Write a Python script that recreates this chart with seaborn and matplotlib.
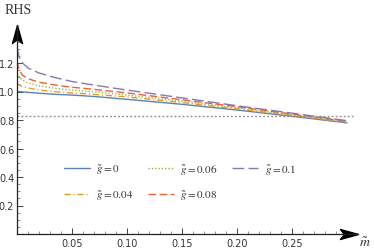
import numpy as np
import pandas as pd
import matplotlib
matplotlib.use('Agg')
import matplotlib.pyplot as plt
import seaborn as sns

# values
m_vals = [0.0, 0.002, 0.005, 0.01, 0.02, 0.035, 0.05, 0.07, 0.10, 0.15, 0.20, 0.25, 0.30]
rhs_g000 = [1.00, 0.999, 0.997, 0.994, 0.988, 0.980, 0.975, 0.965, 0.945, 0.910, 0.870, 0.826, 0.780]
rhs_g004 = [1.06, 1.045, 1.035, 1.025, 1.010, 0.998, 0.990, 0.980, 0.962, 0.922, 0.878, 0.832, 0.783]
rhs_g006 = [1.13, 1.10, 1.08, 1.06, 1.04, 1.022, 1.010, 0.998, 0.975, 0.932, 0.886, 0.837, 0.787]
rhs_g008 = [1.21, 1.15, 1.115, 1.09, 1.065, 1.045, 1.030, 1.015, 0.990, 0.942, 0.893, 0.842, 0.790]
rhs_g010 = [1.31, 1.24, 1.20, 1.165, 1.13, 1.097, 1.070, 1.045, 1.010, 0.955, 0.900, 0.848, 0.795]
ref_level = 0.83
ref_span = [0.0, 0.305]

labels = [r'$\tilde{g} = 0$', r'$\tilde{g} = 0.04$', r'$\tilde{g} = 0.06$',
          r'$\tilde{g} = 0.08$', r'$\tilde{g} = 0.1$']
series = [rhs_g000, rhs_g004, rhs_g006, rhs_g008, rhs_g010]
colors = ['#5E81B5', '#E19C24', '#8FB032', '#EB6235', '#8778B3']
styles = ['-', (0, (4.5, 2.0, 0.8, 2.0)), (0, (0.9, 1.5)), (0, (5.5, 2.5)), (0, (8.5, 3.0))]

sns.set_style('white')
plt.rcParams['font.family'] = ['DejaVu Sans']
plt.rcParams['mathtext.fontset'] = 'stix'

fig = plt.figure(figsize=(3.74, 2.51), dpi=100)
ax = fig.add_axes([17 / 374, 16 / 251, 0.31 * 1100 / 374, 1.47 * 142.5 / 251])

for lab, ys, c, ls in zip(labels, series, colors, styles):
    sns.lineplot(x=m_vals, y=ys, ax=ax, color=c, lw=1.0, linestyle=ls, label=lab)

sns.lineplot(x=ref_span, y=[ref_level, ref_level], ax=ax, color='#8c8c8c',
             lw=1.0, linestyle=(0, (1.3, 1.6)), legend=False)

ax.set_xlim(0, 0.31)
ax.set_ylim(0, 1.47)

for s in ['top', 'right']:
    ax.spines[s].set_visible(False)
for s in ['left', 'bottom']:
    ax.spines[s].set_color('#222222')
    ax.spines[s].set_linewidth(0.9)

ax.set_xticks([0.05, 0.10, 0.15, 0.20, 0.25])
ax.set_xticklabels(['0.05', '0.10', '0.15', '0.20', '0.25'])
ax.set_xticks(np.arange(0.01, 0.30, 0.01), minor=True)
ax.set_yticks([0.2, 0.4, 0.6, 0.8, 1.0, 1.2])
ax.set_yticklabels(['0.2', '0.4', '0.6', '0.8', '1.0', '1.2'])
ax.set_yticks(np.arange(0.05, 1.4, 0.05), minor=True)
ax.tick_params(axis='both', which='major', direction='in', length=4, width=0.7,
               color='#444444', labelsize=7, labelcolor='#333333', pad=2)
ax.tick_params(axis='x', which='major', pad=3)
ax.tick_params(axis='both', which='minor', direction='in', length=2, width=0.5,
               color='#666666')
ax.tick_params(axis='both', which='both', left=True, bottom=True)
ax.set_xlabel('')
ax.set_ylabel('')

# arrow heads on the axes
head = [(0, 0), (-18, 5), (-14, 0), (-18, -5), (0, 0)]
ax.plot([1.0], [0.0], marker=head, markersize=26, color='black',
        transform=ax.transAxes, clip_on=False)
head_up = [(0, 0), (-5, -18), (0, -14), (5, -18), (0, 0)]
ax.plot([0.0], [1.0], marker=head_up, markersize=26, color='black',
        transform=ax.transAxes, clip_on=False)

fig.text(18 / 374, 1 - 10 / 251, 'RHS', family='Liberation Serif', fontsize=10,
         color='#333333', ha='center', va='center')
fig.text(365 / 374, 1 - 243 / 251, r'$\tilde{m}$', fontsize=10, color='#333333',
         ha='center', va='center')

leg = ax.legend(loc='upper left', bbox_to_anchor=(64 / 374, 1 - 163 / 251),
                bbox_transform=fig.transFigure, ncol=3, frameon=False,
                fontsize=8, handlelength=2.3, handletextpad=0.6,
                columnspacing=1.3, labelspacing=1.1, borderpad=0,
                borderaxespad=0)
for t in leg.get_texts():
    t.set_color('#333333')

fig.savefig('out.png', dpi=100)
